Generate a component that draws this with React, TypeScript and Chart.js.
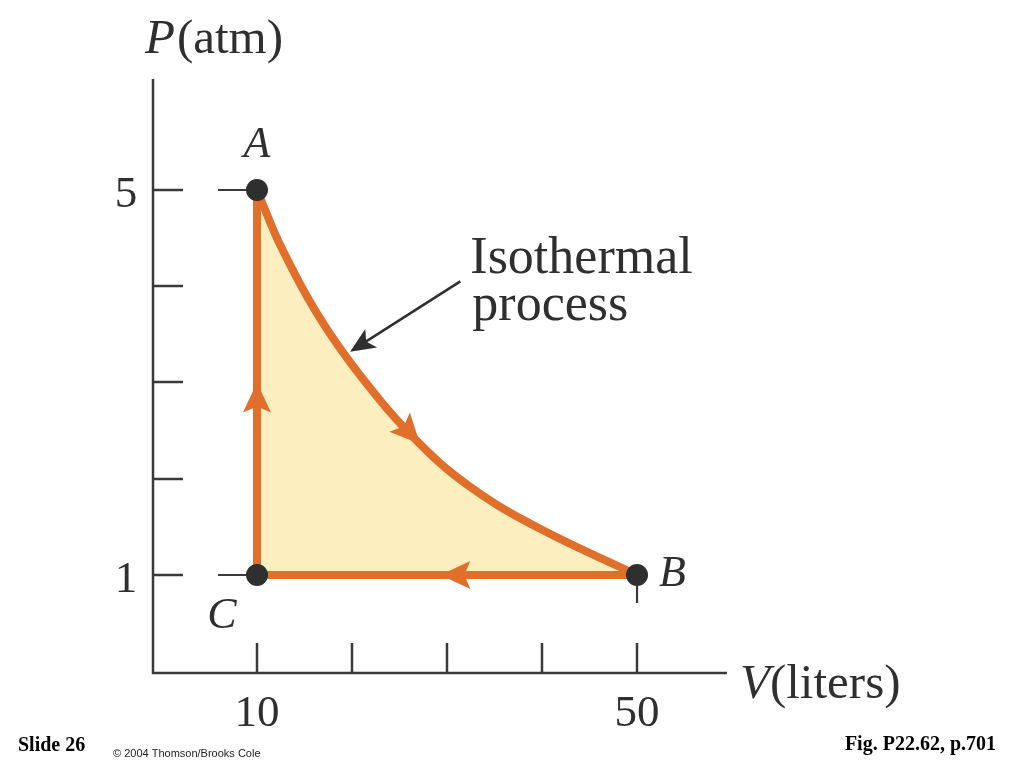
import React, { useEffect, useRef } from 'react';
import { Chart, registerables } from 'chart.js';

Chart.register(...registerables);

// Isothermal process A -> B (V in liters, P in atm)
const curveV = [10, 12.53, 16.42, 21.05, 27.16, 32.95, 39.79, 50];
const curveP = [5, 4.41, 3.70, 3.05, 2.36, 1.88, 1.48, 1];

// States
const stateNames = ['A', 'B', 'C'];
const stateV = [10, 50, 10];
const stateP = [5, 1, 1];

// Axis ticks
const xTickValues = [10, 20, 30, 40, 50];
const xTickLabels = ['10', '', '', '', '50'];
const yTickValues = [1, 2, 3, 4, 5];
const yTickLabels = ['1', '', '', '', '5'];

// Flow direction arrowheads (tip and tail, in data units)
const flowTipV = [10, 27.16, 29.3];
const flowTipP = [3.0, 2.36, 1];
const flowTailV = [10, 24.9, 32.2];
const flowTailP = [2.7, 2.6, 1];

// Callout arrow ("Isothermal process")
const calloutTailV = 31.4;
const calloutTailP = 4.05;
const calloutTipV = 19.8;
const calloutTipP = 3.32;
const calloutLines = ['Isothermal', 'process'];

const xAxisTitle = 'liters';
const yAxisTitle = 'atm';

const ORANGE = '#DF6F2A';
const FILL = '#FDEEC0';
const DARK = '#2f2f2f';
const AXIS = '#3a3a3a';
const SERIF = '"Liberation Serif", "Times New Roman", serif';

function arrowHead(ctx: CanvasRenderingContext2D, tx: number, ty: number, fx: number, fy: number, len: number, halfW: number, notch: number, color: string) {
  const dx = tx - fx;
  const dy = ty - fy;
  const d = Math.hypot(dx, dy) || 1;
  const ux = dx / d;
  const uy = dy / d;
  const px = -uy;
  const py = ux;
  ctx.save();
  ctx.fillStyle = color;
  ctx.beginPath();
  ctx.moveTo(tx, ty);
  ctx.lineTo(tx - ux * len + px * halfW, ty - uy * len + py * halfW);
  ctx.lineTo(tx - ux * (len - notch), ty - uy * (len - notch));
  ctx.lineTo(tx - ux * len - px * halfW, ty - uy * len - py * halfW);
  ctx.closePath();
  ctx.fill();
  ctx.restore();
}

const decorPlugin = {
  id: 'decor',
  beforeDatasetsDraw(chart: any) {
    const { ctx, chartArea, scales } = chart;
    const xs = scales.x;
    const ys = scales.y;
    ctx.save();
    ctx.strokeStyle = AXIS;
    ctx.lineWidth = 2.5;
    ctx.lineCap = 'butt';
    // axes
    ctx.beginPath();
    ctx.moveTo(chartArea.left, chartArea.top);
    ctx.lineTo(chartArea.left, chartArea.bottom);
    ctx.lineTo(chartArea.right, chartArea.bottom);
    ctx.stroke();
    // ticks (inward)
    const tl = 30;
    ctx.beginPath();
    xTickValues.forEach((v) => {
      const x = Math.round(xs.getPixelForValue(v));
      ctx.moveTo(x, chartArea.bottom);
      ctx.lineTo(x, chartArea.bottom - tl);
    });
    yTickValues.forEach((v) => {
      const y = Math.round(ys.getPixelForValue(v));
      ctx.moveTo(chartArea.left, y);
      ctx.lineTo(chartArea.left + tl, y);
    });
    ctx.stroke();
    // short leaders from states toward axes
    ctx.lineWidth = 2.2;
    ctx.beginPath();
    stateNames.forEach((n, i) => {
      const x = xs.getPixelForValue(stateV[i]);
      const y = ys.getPixelForValue(stateP[i]);
      if (n === 'B') {
        ctx.moveTo(x, y);
        ctx.lineTo(x, y + 28);
      } else {
        ctx.moveTo(x, y);
        ctx.lineTo(x - 39, y);
      }
    });
    ctx.stroke();

    // tick labels
    ctx.fillStyle = DARK;
    ctx.font = `45px ${SERIF}`;
    ctx.textAlign = 'center';
    ctx.textBaseline = 'alphabetic';
    xTickValues.forEach((v, i) => {
      if (!xTickLabels[i]) return;
      ctx.fillText(xTickLabels[i], xs.getPixelForValue(v), chartArea.bottom + 53);
    });
    yTickValues.forEach((v, i) => {
      if (!yTickLabels[i]) return;
      ctx.fillText(yTickLabels[i], chartArea.left - 27, ys.getPixelForValue(v) + 17);
    });

    // axis titles
    ctx.textAlign = 'left';
    let x0 = 145;
    const yb = 53;
    ctx.font = `italic 49px ${SERIF}`;
    ctx.fillText('P', x0, yb);
    x0 += ctx.measureText('P').width + 2;
    ctx.font = `49px ${SERIF}`;
    ctx.fillText(`(${yAxisTitle})`, x0, yb);

    let vx = chartArea.right + 13;
    const vy = chartArea.bottom + 25;
    ctx.font = `italic 49px ${SERIF}`;
    ctx.fillText('V', vx, vy);
    vx += ctx.measureText('V').width;
    ctx.font = `49px ${SERIF}`;
    ctx.fillText(`(${xAxisTitle})`, vx, vy);

    // callout text + arrow
    const tailX = xs.getPixelForValue(calloutTailV);
    const tailY = ys.getPixelForValue(calloutTailP);
    const tipX = xs.getPixelForValue(calloutTipV);
    const tipY = ys.getPixelForValue(calloutTipP);
    ctx.font = `52px ${SERIF}`;
    ctx.fillText(calloutLines[0], tailX + 10, tailY - 8);
    ctx.fillText(calloutLines[1], tailX + 12, tailY + 39);
    ctx.strokeStyle = DARK;
    ctx.lineWidth = 2.5;
    const d = Math.hypot(tipX - tailX, tipY - tailY);
    const ux = (tipX - tailX) / d;
    const uy = (tipY - tailY) / d;
    ctx.beginPath();
    ctx.moveTo(tailX, tailY);
    ctx.lineTo(tipX - ux * 14, tipY - uy * 14);
    ctx.stroke();
    arrowHead(ctx, tipX, tipY, tailX, tailY, 25, 11, 6, DARK);

    // footer
    ctx.fillStyle = '#000';
    ctx.font = `bold 20px ${SERIF}`;
    ctx.fillText('Slide 26', 18, 751);
    ctx.textAlign = 'right';
    ctx.fillText('Fig. P22.62, p.701', 996, 750);
    ctx.textAlign = 'left';
    ctx.fillStyle = '#222';
    ctx.font = `11px "Liberation Sans", Arial, sans-serif`;
    ctx.fillText('\u00A9 2004 Thomson/Brooks Cole', 113, 757);
    ctx.restore();
  },
  afterDatasetsDraw(chart: any) {
    const { ctx, scales } = chart;
    const xs = scales.x;
    const ys = scales.y;
    flowTipV.forEach((v, i) => {
      arrowHead(
        ctx,
        xs.getPixelForValue(v),
        ys.getPixelForValue(flowTipP[i]),
        xs.getPixelForValue(flowTailV[i]),
        ys.getPixelForValue(flowTailP[i]),
        30,
        14,
        6,
        ORANGE
      );
    });
    // state dots on top
    ctx.save();
    ctx.fillStyle = DARK;
    stateNames.forEach((n, i) => {
      const x = xs.getPixelForValue(stateV[i]);
      const y = ys.getPixelForValue(stateP[i]);
      ctx.beginPath();
      ctx.arc(x, y, 11, 0, Math.PI * 2);
      ctx.fill();
    });
    // state labels
    ctx.font = `italic 44px ${SERIF}`;
    ctx.textBaseline = 'alphabetic';
    stateNames.forEach((n, i) => {
      const x = xs.getPixelForValue(stateV[i]);
      const y = ys.getPixelForValue(stateP[i]);
      if (n === 'A') {
        ctx.textAlign = 'center';
        ctx.fillText(n, x, y - 33);
      } else if (n === 'B') {
        ctx.textAlign = 'left';
        ctx.fillText(n, x + 22, y + 11);
      } else {
        ctx.textAlign = 'center';
        ctx.fillText(n, x - 35, y + 53);
      }
    });
    ctx.restore();
  },
};

export default function App() {
  const ref = useRef<HTMLCanvasElement | null>(null);
  useEffect(() => {
    if (!ref.current) return;
    const chart = new Chart(ref.current, {
      type: 'scatter',
      data: {
        datasets: [
          {
            label: 'Isothermal A→B',
            data: curveV.map((v, i) => ({ x: v, y: curveP[i] })),
            showLine: true,
            borderColor: ORANGE,
            borderWidth: 8,
            backgroundColor: FILL,
            fill: { value: 1 },
            tension: 0.4,
            pointRadius: 0,
            order: 4,
          },
          {
            label: 'B→C',
            data: [
              { x: stateV[1], y: stateP[1] },
              { x: stateV[2], y: stateP[2] },
            ],
            showLine: true,
            borderColor: ORANGE,
            borderWidth: 8,
            pointRadius: 0,
            fill: false,
            order: 3,
          },
          {
            label: 'C→A',
            data: [
              { x: stateV[2], y: stateP[2] },
              { x: stateV[0], y: stateP[0] },
            ],
            showLine: true,
            borderColor: ORANGE,
            borderWidth: 8,
            pointRadius: 0,
            fill: false,
            order: 2,
          },
        ],
      },
      options: {
        responsive: false,
        animation: false,
        devicePixelRatio: 1,
        layout: { padding: { left: 153, right: 297, top: 79, bottom: 95 } },
        plugins: { legend: { display: false }, tooltip: { enabled: false }, filler: { propagate: false } },
        scales: {
          x: { type: 'linear', min: -0.947, max: 59.47, display: false },
          y: { type: 'linear', min: -0.018, max: 6.153, display: false },
        },
      },
      plugins: [decorPlugin],
    } as any);
    return () => chart.destroy();
  }, []);
  return (
    <div style={{ position: 'fixed', left: 0, top: 0, width: 1024, height: 768, background: '#fff' }}>
      <canvas ref={ref} width={1024} height={768} style={{ display: 'block' }} />
    </div>
  );
}
